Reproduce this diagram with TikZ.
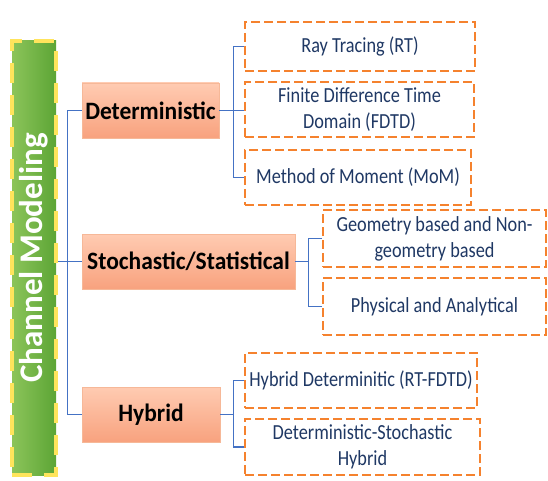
\documentclass[tikz,border=0pt]{standalone}
\usepackage{fontspec}
\setmainfont{Carlito}
\newfontfamily\leaffont[FakeStretch=0.85]{Carlito}
\newfontfamily\catfont[FakeStretch=0.94]{Carlito}
\definecolor{greenL}{HTML}{8CC45A}
\definecolor{greenR}{HTML}{5CA535}
\definecolor{yel}{HTML}{FFE45C}
\definecolor{salT}{HTML}{FFCBB2}
\definecolor{salB}{HTML}{F8A27E}
\definecolor{salD}{HTML}{F6B898}
\definecolor{orng}{HTML}{F5822E}
\definecolor{navy}{HTML}{1F3864}
\definecolor{conblue}{HTML}{4472C4}
\begin{document}
\begin{tikzpicture}[x=1pt,y=-1pt,
  rootbox/.style={draw=yel,line width=3.5pt,dash pattern=on 20pt off 12pt,left color=greenL,right color=greenR,minimum width=44pt,minimum height=434pt,inner sep=0pt},
  catbox/.style={draw=salD,line width=0.8pt,top color=salT,bottom color=salB,minimum height=55pt,inner sep=0pt,font=\catfont\fontsize{25}{28}\selectfont\bfseries,text=black},
  leafbox/.style={draw=orng,line width=2.8pt,dash pattern=on 9pt off 4pt,minimum height=55pt,inner sep=0pt,align=center,font=\leaffont\fontsize{21.5}{26}\selectfont,text=navy},
  conn/.style={draw=conblue,line width=1.6pt}]
\useasboundingbox (0,0) rectangle (548,481);
% root
\node[rootbox] (root) at (34,258) {};
\node[rotate=90,text=white,font=\fontsize{33}{36}\selectfont\bfseries] (roottext) at (34,258) {Channel Modeling};
% categories
\node[catbox,minimum width=137pt] (det) at (150.5,110.5) {Deterministic};
\node[catbox,minimum width=213pt] (sto) at (188.5,261.5) {Stochastic/Statistical};
\node[catbox,minimum width=138pt] (hyb) at (151,414.5) {Hybrid};
% leaves
\node[leafbox,minimum width=230pt,minimum height=49pt] (rt) at (360,46.5) {Ray Tracing (RT)};
\node[leafbox,minimum width=229pt] (fdtd) at (359.5,109.5) {Finite Difference Time\\Domain (FDTD)};
\node[leafbox,minimum width=226pt] (mom) at (358,177.5) {Method of Moment (MoM)};
\node[leafbox,minimum width=223pt,minimum height=57pt] (geo) at (434.5,238.5) {Geometry based and Non-\\geometry based};
\node[leafbox,minimum width=223pt,minimum height=57pt] (phys) at (434.5,306.5) {Physical and Analytical};
\node[leafbox,minimum width=232pt] (hrt) at (361,380.5) {Hybrid Determinitic (RT-FDTD)};
\node[leafbox,minimum width=235pt,minimum height=56pt] (dsh) at (362.5,447) {Deterministic-Stochastic\\Hybrid};
% connectors
\draw[conn] (root.east |- sto.west) -- (sto.west);
\draw[conn] (det.west) -- ++(-14,0) |- (hyb.west);
\draw[conn] (det.east) -- ++(14,0) coordinate (dj);
\draw[conn] (rt.west) -| (dj) |- (mom.west);
\draw[conn] (dj) -- (fdtd.west |- dj);
\draw[conn] (sto.east) -- ++(13,0) coordinate (sj);
\draw[conn] (geo.west) -| (sj) |- (phys.west);
\draw[conn] (hyb.east) -- ++(13,0) coordinate (hj);
\draw[conn] (hrt.west) -| (hj) |- (dsh.west);
\end{tikzpicture}
\end{document}
